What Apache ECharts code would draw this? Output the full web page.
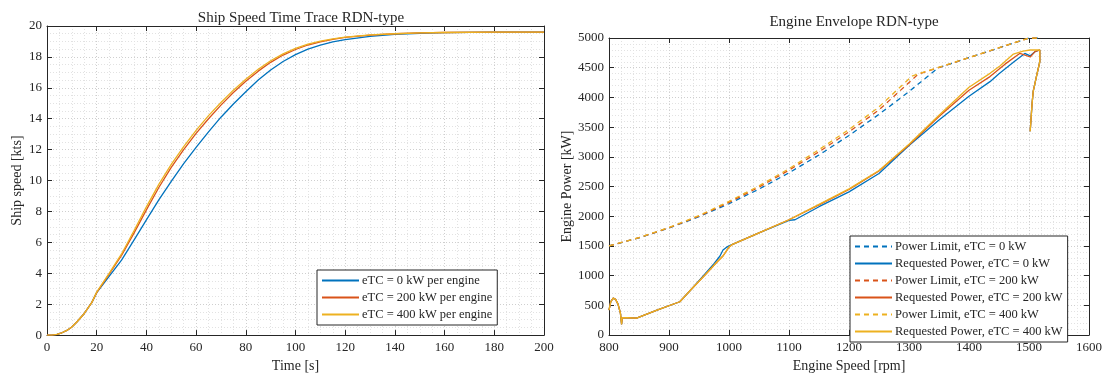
<!DOCTYPE html>
<html><head><meta charset="utf-8">
<script src="https://cdn.jsdelivr.net/npm/echarts@6/dist/echarts.min.js"></script>
<style>html,body{margin:0;padding:0;background:#fff}#c{width:1107px;height:378px}</style>
</head><body><div id="c"></div><script>
// ---------- Left chart: ship speed time trace ----------
const timeS = [0, 2, 4, 6, 8, 10, 12, 15, 18, 20, 25, 30, 35, 40, 45, 50, 55, 60, 65, 70, 75, 80, 85, 90, 95, 100, 105, 110, 115, 120, 130, 140, 150, 160, 180, 200];
const speed0 = [0, 0, 0.05, 0.15, 0.3, 0.52, 0.85, 1.4, 2.1, 2.75, 3.8, 4.85, 6.15, 7.45, 8.75, 9.95, 11.1, 12.15, 13.15, 14.1, 14.95, 15.75, 16.5, 17.15, 17.7, 18.15, 18.5, 18.77, 18.97, 19.12, 19.33, 19.46, 19.53, 19.57, 19.6, 19.6];
const speed200 = [0, 0, 0.05, 0.15, 0.3, 0.52, 0.85, 1.4, 2.1, 2.75, 3.95, 5.15, 6.6, 8.1, 9.55, 10.85, 12.0, 13.05, 14.0, 14.88, 15.7, 16.42, 17.08, 17.65, 18.12, 18.48, 18.77, 18.98, 19.14, 19.26, 19.41, 19.5, 19.55, 19.58, 19.6, 19.6];
const speed400 = [0, 0, 0.05, 0.15, 0.3, 0.52, 0.85, 1.4, 2.1, 2.78, 4.0, 5.25, 6.75, 8.3, 9.75, 11.05, 12.2, 13.25, 14.2, 15.05, 15.85, 16.55, 17.2, 17.75, 18.2, 18.55, 18.82, 19.02, 19.17, 19.28, 19.42, 19.5, 19.55, 19.58, 19.6, 19.6];
const leftNames = ['eTC = 0 kW per engine', 'eTC = 200 kW per engine', 'eTC = 400 kW per engine'];
const leftXTicks = {min: 0, max: 200, interval: 20};
const leftYTicks = {min: 0, max: 20, interval: 2};

// ---------- Right chart: engine envelope ----------
const limRpm0 = [800, 850, 900, 950, 1000, 1050, 1100, 1150, 1200, 1250, 1300, 1349, 1500, 1520];
const limKw0  = [1500, 1636, 1800, 1991, 2210, 2456, 2730, 3031, 3359, 3715, 4098, 4500, 5000, 5000];
const limRpm200 = [800, 850, 900, 950, 1000, 1050, 1100, 1150, 1200, 1250, 1315, 1500, 1520];
const limKw200  = [1500, 1638, 1805, 2000, 2232, 2490, 2775, 3085, 3420, 3790, 4388, 5000, 5000];
const limRpm400 = [800, 850, 900, 950, 1000, 1050, 1100, 1150, 1200, 1250, 1305, 1500, 1520];
const limKw400  = [1500, 1640, 1810, 2010, 2250, 2510, 2800, 3120, 3460, 3840, 4360, 5000, 5000];

const reqRpm0 = [800, 803, 807, 811, 815, 819, 821, 822, 830, 846, 880, 918, 940, 960, 975, 985, 990, 995, 1000, 1050, 1100, 1110, 1150, 1200, 1250, 1300, 1350, 1400, 1435, 1450, 1475, 1493, 1502, 1510, 1518, 1518, 1513, 1507, 1505, 1502];
const reqKw0  = [420, 560, 620, 600, 520, 370, 180, 290, 290, 285, 420, 560, 800, 1030, 1200, 1330, 1430, 1470, 1500, 1720, 1930, 1940, 2160, 2410, 2720, 3190, 3620, 4020, 4265, 4400, 4600, 4740, 4700, 4770, 4798, 4600, 4380, 4100, 3880, 3430];
const reqRpm200 = [800, 803, 807, 811, 815, 819, 821, 822, 830, 846, 880, 918, 940, 960, 980, 990, 996, 1000, 1005, 1050, 1100, 1150, 1200, 1250, 1300, 1350, 1400, 1435, 1460, 1485, 1502, 1510, 1518, 1518, 1513, 1507, 1505, 1502];
const reqKw200  = [420, 560, 620, 600, 520, 370, 180, 290, 290, 285, 420, 560, 800, 1010, 1230, 1330, 1420, 1480, 1520, 1720, 1940, 2190, 2450, 2760, 3200, 3680, 4120, 4350, 4560, 4742, 4680, 4770, 4798, 4600, 4380, 4100, 3880, 3430];
const reqRpm400 = [800, 803, 807, 811, 815, 819, 821, 822, 830, 846, 880, 918, 940, 960, 980, 990, 996, 1000, 1005, 1050, 1100, 1150, 1200, 1250, 1300, 1350, 1400, 1435, 1452, 1474, 1490, 1502, 1518, 1518, 1513, 1507, 1505, 1502];
const reqKw400  = [420, 560, 620, 600, 520, 370, 180, 290, 290, 285, 420, 560, 800, 1010, 1230, 1330, 1420, 1480, 1520, 1720, 1940, 2200, 2460, 2770, 3210, 3700, 4170, 4405, 4534, 4730, 4780, 4798, 4798, 4600, 4380, 4100, 3880, 3430];
const rightNames = ['Power Limit, eTC = 0 kW', 'Requested Power, eTC = 0 kW', 'Power Limit, eTC = 200 kW', 'Requested Power, eTC = 200 kW', 'Power Limit, eTC = 400 kW', 'Requested Power, eTC = 400 kW'];
const rightXTicks = {min: 800, max: 1600, interval: 100};
const rightYTicks = {min: 0, max: 5000, interval: 500};

const colors = ['#0072BD', '#D95319', '#EDB120'];
const FONT = 'Liberation Serif';
const AX = '#262626';

function pairs(xs, ys) { return xs.map((x, i) => [x, ys[i]]); }

function axisPair(kind, gridIndex, ticks, name, nameGap, minorSplit) {
  const main = {
    type: 'value', gridIndex, min: ticks.min, max: ticks.max, interval: ticks.interval,
    position: kind === 'x' ? 'bottom' : 'left',
    name, nameLocation: 'middle', nameGap,
    nameTextStyle: {fontFamily: FONT, fontSize: 14, color: AX},
    axisLine: {show: true, onZero: false, lineStyle: {color: AX, width: 1}},
    axisTick: {show: true, inside: true, length: 5, lineStyle: {color: AX}},
    axisLabel: {fontFamily: FONT, fontSize: 13, color: AX, margin: kind === 'x' ? 6 : 5,
                formatter: v => String(v)},
    splitLine: {show: true, lineStyle: {color: '#cfcfcf', type: [1, 2], width: 1}},
    minorTick: {show: true, splitNumber: minorSplit, length: 0},
    minorSplitLine: {show: true, lineStyle: {color: '#e2e2e2', type: [1, 2], width: 1}}
  };
  if (kind === 'y') main.nameRotate = 90;
  const box = {
    type: 'value', gridIndex, min: ticks.min, max: ticks.max, interval: ticks.interval,
    position: kind === 'x' ? 'top' : 'right',
    axisLine: {show: true, onZero: false, lineStyle: {color: AX, width: 1}},
    axisTick: {show: true, inside: true, length: 5, lineStyle: {color: AX}},
    axisLabel: {show: false}, splitLine: {show: false}
  };
  return [main, box];
}

const lx = axisPair('x', 0, leftXTicks, 'Time [s]', 19, 4);
const ly = axisPair('y', 0, leftYTicks, 'Ship speed [kts]', 23, 4);
const rx = axisPair('x', 1, rightXTicks, 'Engine Speed [rpm]', 19, 5);
const ry = axisPair('y', 1, rightYTicks, 'Engine Power [kW]', 35, 5);

const series = [];
[speed0, speed200, speed400].forEach((s, i) => {
  series.push({name: leftNames[i], type: 'line', xAxisIndex: 0, yAxisIndex: 0,
    data: pairs(timeS, s), symbol: 'none', smooth: false,
    lineStyle: {color: colors[i], width: 1.3}, itemStyle: {color: colors[i]}});
});
const lims = [[limRpm0, limKw0], [limRpm200, limKw200], [limRpm400, limKw400]];
const reqs = [[reqRpm0, reqKw0], [reqRpm200, reqKw200], [reqRpm400, reqKw400]];
for (let i = 0; i < 3; i++) {
  series.push({name: rightNames[2 * i], type: 'line', xAxisIndex: 2, yAxisIndex: 2,
    data: pairs(lims[i][0], lims[i][1]), symbol: 'none',
    lineStyle: {color: colors[i], width: 1.3, type: [5, 4]}, itemStyle: {color: colors[i]}});
  series.push({name: rightNames[2 * i + 1], type: 'line', xAxisIndex: 2, yAxisIndex: 2,
    data: pairs(reqs[i][0], reqs[i][1]), symbol: 'none',
    lineStyle: {color: colors[i], width: 1.3}, itemStyle: {color: colors[i]}});
}

const legendCommon = {
  orient: 'vertical', backgroundColor: '#fff', borderColor: AX, borderWidth: 1,
  itemWidth: 37, itemHeight: 10, itemGap: 4, padding: [4, 5, 4, 4], borderRadius: 0,
  itemStyle: {color: 'rgba(0,0,0,0)', borderColor: 'rgba(0,0,0,0)', borderWidth: 0, opacity: 0},
  textStyle: {fontFamily: FONT, fontSize: 12.5, color: AX, padding: [0, 0, 0, -2]},
  selectedMode: false
};

const chart = echarts.init(document.getElementById('c'), null, {renderer: 'canvas'});
chart.setOption({
  animation: false,
  backgroundColor: '#fff',
  title: [
    {text: 'Ship Speed Time Trace RDN-type', left: 296, top: 6, textAlign: 'center',
     textStyle: {fontFamily: FONT, fontSize: 15, fontWeight: 'normal', color: AX}},
    {text: 'Engine Envelope RDN-type', left: 849, top: 10, textAlign: 'center',
     textStyle: {fontFamily: FONT, fontSize: 15, fontWeight: 'normal', color: AX}}
  ],
  grid: [
    {left: 47, right: 563, top: 26, bottom: 42},
    {left: 609, right: 18, top: 38, bottom: 43}
  ],
  xAxis: [lx[0], lx[1], rx[0], rx[1]],
  yAxis: [ly[0], ly[1], ry[0], ry[1]],
  legend: [
    Object.assign({}, legendCommon, {data: leftNames, left: 317, top: 270}),
    Object.assign({}, legendCommon, {data: rightNames, left: 850, top: 236})
  ],
  series
});
</script></body></html>
